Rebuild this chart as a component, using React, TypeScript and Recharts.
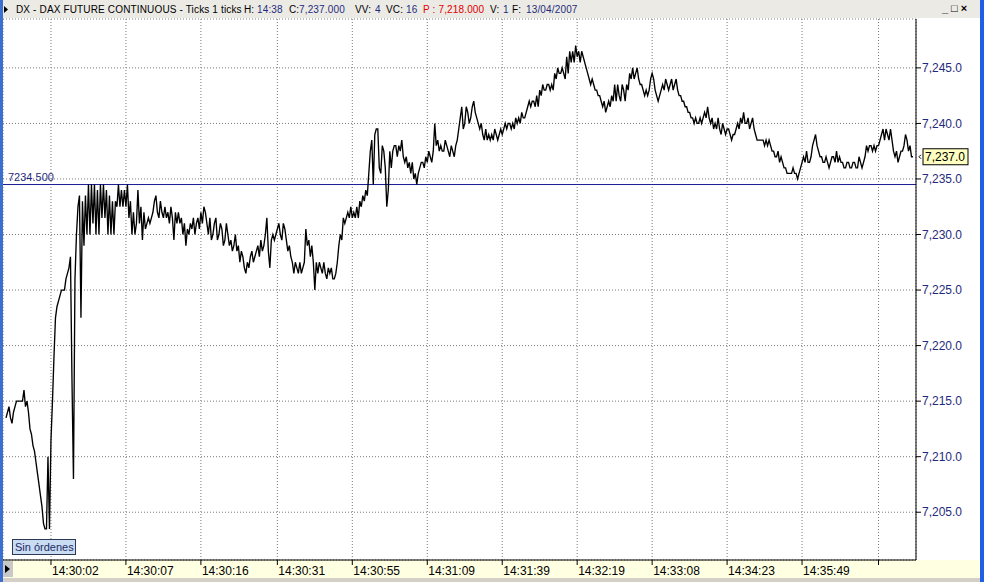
import { LineChart, Line, XAxis, YAxis, CartesianGrid, ReferenceLine } from 'recharts'

// tick prices, two readings per 3px column of the original chart
const prices = [
  7213.5, 7214, 7214.5, 7213.5, 7213, 7214, 7214.5, 7215, 7215, 7215, 7215, 7215, 7216, 7214.5, 7215, 7214, 7212.5, 7212, 7211, 7210.5,
  7209.5, 7208.5, 7207.5, 7206.5, 7205.5, 7204, 7203.5, 7203.5, 7210, 7203.5, 7211.5, 7215, 7219, 7222.5, 7223.5, 7224, 7224.5, 7225, 7225, 7225,
  7226, 7226.5, 7227, 7228, 7217, 7208, 7226, 7230, 7232.5, 7233.5, 7222.5, 7233, 7229, 7233.5, 7230, 7234.5, 7230, 7234.5, 7231, 7234.5,
  7230, 7234, 7230, 7234.5, 7231.5, 7234.5, 7231.5, 7234, 7230, 7233.5, 7230, 7233, 7230, 7233, 7232.5, 7234.5, 7232.5, 7234, 7232.5, 7234,
  7232.5, 7234.5, 7231.5, 7233, 7230, 7232, 7230, 7231, 7234, 7231, 7232.5, 7229.5, 7232, 7230.5, 7231, 7231.5, 7231, 7231.5, 7232, 7233,
  7233.5, 7232, 7231.5, 7233, 7232, 7231.5, 7232.5, 7231.5, 7232, 7231, 7232.5, 7231.5, 7229.5, 7232, 7231, 7232, 7231, 7231.5, 7230, 7231,
  7229, 7230.5, 7230, 7231, 7230.5, 7231.5, 7230, 7231, 7231.5, 7230.5, 7232, 7231, 7232.5, 7232, 7231, 7230, 7231.5, 7229.5, 7230, 7231,
  7231.5, 7229.5, 7230, 7231, 7230.5, 7229, 7229.5, 7231, 7230, 7229, 7229.5, 7228.5, 7229, 7230, 7228.5, 7229, 7227.5, 7228.5, 7228, 7227,
  7226.5, 7227.5, 7227, 7228, 7228.5, 7227.5, 7228, 7228.5, 7229, 7228, 7229.5, 7228.5, 7229, 7230, 7231.5, 7228.5, 7227, 7229.5, 7230, 7229.5,
  7230, 7230.5, 7231, 7230, 7229.5, 7231, 7230.5, 7229.5, 7228.5, 7229, 7228, 7227.5, 7226.5, 7227.5, 7227, 7226.5, 7227.5, 7226.5, 7227, 7227.5,
  7230.5, 7229, 7229.5, 7228, 7229, 7227.5, 7225, 7227.5, 7226.5, 7227.5, 7227, 7226.5, 7227.5, 7226.5, 7226, 7227, 7226.5, 7227, 7226, 7226,
  7226.5, 7227.5, 7229, 7230, 7229.5, 7231.5, 7231, 7231.5, 7232, 7231.5, 7232.5, 7231.5, 7232, 7231.5, 7232.5, 7231.5, 7233, 7232.5, 7233.5, 7233,
  7234, 7233.5, 7235.5, 7237.5, 7238.5, 7234.5, 7239, 7239.5, 7239.5, 7236, 7235.5, 7238, 7237.5, 7236, 7232.5, 7234, 7237.5, 7236, 7237.5, 7238,
  7238, 7237, 7238, 7237.5, 7238.5, 7237, 7236.5, 7237, 7236, 7236.5, 7235.5, 7236.5, 7235, 7235.5, 7234.5, 7235.5, 7236, 7236.5, 7236.5, 7236,
  7237, 7236.5, 7237.5, 7237, 7236.5, 7237.5, 7240, 7238, 7238.5, 7237.5, 7238, 7237.5, 7237.5, 7238.5, 7238, 7237.5, 7237, 7238, 7237.5, 7237,
  7238, 7238.5, 7239.5, 7240.5, 7241.5, 7239.5, 7240, 7241.5, 7241, 7240, 7240.5, 7241.5, 7242, 7241, 7240.5, 7240, 7239.5, 7240, 7239, 7238.5,
  7239.5, 7238.5, 7239, 7238.5, 7239, 7238.5, 7239.5, 7239, 7238.5, 7239, 7239.5, 7239, 7239.5, 7240, 7239.5, 7240, 7240, 7239.5, 7240, 7239.5,
  7240.5, 7240, 7240.5, 7240, 7241, 7240.5, 7240.5, 7241, 7241.5, 7242, 7241.5, 7242, 7242, 7241.5, 7242.5, 7241.5, 7243, 7242.5, 7243.5, 7243,
  7243, 7243.5, 7243.5, 7243, 7243.5, 7243, 7244.5, 7244, 7245, 7244.5, 7244.5, 7245, 7244.5, 7244, 7246, 7244.5, 7246.5, 7245.5, 7246.5, 7245.5,
  7247, 7246, 7246.5, 7245.5, 7246.5, 7246, 7245.5, 7245, 7244.5, 7244, 7243.5, 7244, 7243.5, 7243, 7243, 7242.5, 7242.5, 7242, 7241.5, 7242,
  7241, 7241.5, 7242, 7241.5, 7242.5, 7242, 7243.5, 7242, 7243.5, 7242.5, 7242, 7243.5, 7243, 7242, 7243.5, 7243, 7244.5, 7244, 7245, 7244,
  7244.5, 7245, 7244, 7243.5, 7243.5, 7243, 7242.5, 7243, 7242.5, 7243, 7244, 7244.5, 7244, 7243, 7242.5, 7242, 7242.5, 7243, 7243.5, 7243,
  7244, 7243.5, 7243, 7243.5, 7244, 7243, 7243.5, 7244, 7243, 7242.5, 7242.5, 7242, 7242, 7241.5, 7241.5, 7241, 7241, 7240.5, 7240.5, 7240,
  7240.5, 7240, 7240, 7240.5, 7240, 7240.5, 7241, 7240.5, 7241.5, 7240.5, 7240, 7240.5, 7239.5, 7240, 7239.5, 7240.5, 7239.5, 7239, 7240, 7239.5,
  7239, 7239.5, 7239.5, 7239, 7238.5, 7239, 7239, 7239.5, 7240, 7239.5, 7240.5, 7240, 7241, 7240, 7240, 7240.5, 7239.5, 7240, 7240.5, 7239.5,
  7239, 7238.5, 7238.5, 7238.5, 7238.5, 7238.5, 7238, 7238.5, 7238, 7238.5, 7238, 7237.5, 7237.5, 7237, 7237, 7237.5, 7236.5, 7237, 7236.5, 7236,
  7236, 7235.5, 7235.5, 7235.5, 7235.5, 7236, 7235.5, 7235.5, 7235, 7235.5, 7236, 7236.5, 7237, 7236.5, 7237.5, 7236.5, 7236.5, 7237, 7238, 7238.5,
  7239, 7238, 7237.5, 7237, 7237, 7236.5, 7236.5, 7237, 7236.5, 7236, 7236.5, 7237, 7237, 7236.5, 7237.5, 7236.5, 7237, 7236.5, 7236.5, 7236,
  7236, 7236.5, 7236.5, 7236, 7236, 7236.5, 7236.5, 7236, 7236, 7237, 7236.5, 7236, 7236.5, 7237, 7238, 7237.5, 7238, 7238, 7237.5, 7238,
  7237.5, 7238, 7238, 7238.5, 7239, 7239.5, 7238.5, 7239.5, 7239, 7238.5, 7239.5, 7238.5, 7237.5, 7237, 7237.5, 7236.5, 7237, 7237.5, 7237.5, 7238,
  7239, 7238.5, 7237.5, 7238, 7237, 7237,
]

const tickIdx = [30, 80, 130, 181, 231, 281, 331, 381, 431, 481, 531, 582]
const tickTimes = ['14:30:02', '14:30:07', '14:30:16', '14:30:31', '14:30:55', '14:31:09', '14:31:39', '14:32:19', '14:33:08', '14:34:23', '14:35:49', '']
const priceTicks = [7205, 7210, 7215, 7220, 7225, 7230, 7235, 7240, 7245]
const refLevel = 7234.5
const lastPrice = 7237

const data = prices.map((p, i) => ({ i, p }))

const NAVY = '#1f2a7c'
const fmt1 = (v: number) => v.toLocaleString('en-US', { minimumFractionDigits: 1, maximumFractionDigits: 1 })

function TimeTick({ x, y, payload }: any) {
  const label = tickTimes[tickIdx.indexOf(payload.value)]
  return (
    <g>
      <line x1={x} x2={x} y1={y} y2={y + 5} stroke="#000" />
      <text x={x + 1} y={y + 15} fontSize={12} fill="#000" textAnchor="start">{label}</text>
    </g>
  )
}

function PriceTag({ viewBox }: any) {
  const right = viewBox.x + viewBox.width
  const cy = viewBox.y
  return (
    <g>
      <polyline points={`${right + 5},${cy - 2} ${right + 3},${cy} ${right + 5},${cy + 2}`} fill="none" stroke="#000" />
      <rect x={right + 7} y={cy - 8} width={45} height={16} fill="#FFFFC0" stroke="#000" />
      <text x={right + 9} y={cy + 4} fontSize={12} fill="#000">{fmt1(lastPrice)}</text>
    </g>
  )
}

function RefTag({ viewBox }: any) {
  return (
    <text x={viewBox.x + 5} y={viewBox.y - 4} fontSize={11} fill={NAVY}>
      {refLevel.toFixed(3)}
    </text>
  )
}

const tb = (left: number, color: string, text: string) => (
  <span style={{ position: 'absolute', left, top: 4, fontSize: 10, letterSpacing: 0.15, color, whiteSpace: 'nowrap' }}>{text}</span>
)

export default function App() {
  return (
    <div style={{ position: 'absolute', left: 0, top: 0, width: 984, height: 582, background: '#fff', overflow: 'hidden', fontFamily: '"Liberation Sans", Arial, sans-serif' }}>
      <div style={{ position: 'absolute', left: 0, top: 0, width: 984, height: 18, background: '#EBEAE5' }}>
        <svg style={{ position: 'absolute', left: 4, top: 6 }} width={5} height={7}>
          <polygon points="0,0 4,3.5 0,7" fill="#000" />
        </svg>
        {tb(16, '#000', 'DX - DAX FUTURE CONTINUOUS - Ticks 1 ticks')}
        {tb(244, '#000', 'H:')}
        {tb(257, NAVY, '14:38')}
        {tb(289, '#000', 'C:')}
        {tb(299, NAVY, '7,237.000')}
        {tb(355, '#000', 'VV:')}
        {tb(375, NAVY, '4')}
        {tb(386, '#000', 'VC:')}
        {tb(406, NAVY, '16')}
        {tb(423, '#e00000', 'P : 7,218.000')}
        {tb(490, '#000', 'V:')}
        {tb(503, NAVY, '1')}
        {tb(512, '#000', 'F:')}
        {tb(526, NAVY, '13/04/2007')}
        <span style={{ position: 'absolute', left: 942, top: 2, fontSize: 11, fontWeight: 'bold', color: '#000', letterSpacing: 3 }}>_□×</span>
      </div>

      <div style={{ position: 'absolute', left: 0, top: 560, width: 984, height: 18, background: '#FFFFE1' }} />
      <div style={{ position: 'absolute', left: 0, top: 578, width: 984, height: 4, background: '#D4D0C8' }} />

      <div style={{ position: 'absolute', left: 0, top: 0 }}>
        <LineChart width={980} height={578} data={data} margin={{ top: 19, right: 0, bottom: 0, left: 3 }}>
          <CartesianGrid stroke="#7a7a7a" strokeDasharray="1 2" />
          <XAxis
            type="number"
            dataKey="i"
            domain={[-2, 607]}
            ticks={tickIdx}
            interval={0}
            allowDataOverflow
            height={18}
            axisLine={{ stroke: '#000' }}
            tickLine={false}
            tickSize={0}
            tickMargin={0}
            tick={<TimeTick />}
          />
          <YAxis
            orientation="right"
            type="number"
            domain={[7200.7, 7249.4]}
            ticks={priceTicks}
            allowDataOverflow
            width={64}
            axisLine={{ stroke: '#000' }}
            tickLine={{ stroke: '#000' }}
            tickSize={5}
            tickMargin={1}
            tick={{ fill: NAVY, fontSize: 12 }}
            tickFormatter={fmt1}
          />
          <ReferenceLine y={refLevel} stroke="#1c1c96" strokeWidth={1} label={<RefTag />} />
          <Line type="linear" dataKey="p" stroke="#000" strokeWidth={1.35} dot={false} isAnimationActive={false} />
          <ReferenceLine y={lastPrice} stroke="none" label={<PriceTag />} />
        </LineChart>
      </div>

      <div style={{ position: 'absolute', left: 3, top: 561, width: 10, height: 16, background: '#C8C8C8' }}>
        <svg style={{ position: 'absolute', left: 2, top: 4 }} width={6} height={8}>
          <polygon points="0,0 5,4 0,8" fill="#000" />
        </svg>
      </div>
      <div style={{ position: 'absolute', left: 12, top: 539, width: 60, height: 14, background: '#C9DCF2', border: '1px solid #2d3a55', fontSize: 11, lineHeight: '14px', color: '#1c2a66', paddingLeft: 2 }}>
        Sin órdenes
      </div>

      <div style={{ position: 'absolute', left: 0, top: 0, width: 3, height: 582, background: '#3b6fd0' }} />
      <div style={{ position: 'absolute', left: 980, top: 0, width: 4, height: 582, background: '#1f5fe6' }} />
    </div>
  )
}
